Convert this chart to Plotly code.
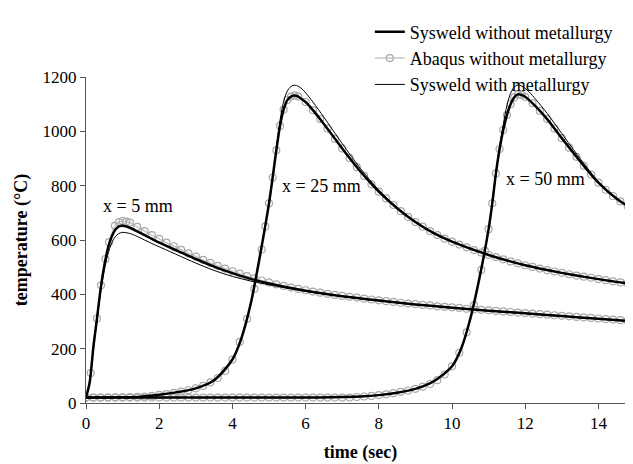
import plotly.graph_objects as go

# ---------------- data ----------------
# Sysweld without metallurgy
t5_sw = [0, 0.1, 0.2, 0.3, 0.4, 0.5, 0.6, 0.7, 0.8, 0.9, 1.0, 1.2, 1.4, 1.6, 1.8, 2.0, 2.5, 3.0, 3.5, 4.0,
         4.5, 5.0, 6.0, 7.0, 8.0, 9.0, 10.0, 11.0, 12.0, 13.0, 14.0, 15.0]
T5_sw = [20, 75, 205, 311, 420, 505, 570, 612, 638, 650, 652, 645, 632, 618, 604, 590, 560, 530, 502, 478,
         457, 440, 413, 393, 377, 363, 351, 340, 330, 320, 310, 300]
T5_wm = [20, 75, 200, 305, 410, 490, 548, 588, 612, 624, 628, 624, 613, 600, 587, 575, 545, 515, 488, 466,
         449, 435, 411, 392, 376, 362, 350, 339, 329, 319, 309, 299]

t25_s = [0, 1.0, 1.5, 2.0, 2.5, 3.0, 3.5, 4.0, 4.25, 4.5, 4.75, 5.0, 5.1, 5.2, 5.3, 5.4, 5.5, 5.6, 5.7,
         5.8, 5.9, 6.0, 6.2, 6.5, 7.0, 7.5, 8.0, 8.5, 9.0, 9.5, 10.0, 11.0, 12.0, 13.0, 14.0, 15.0]
T25_sw = [20, 21, 23, 30, 40, 54, 84, 160, 240, 365, 540, 735, 830, 930, 1020, 1080, 1115, 1128, 1132,
          1128, 1118, 1108, 1078, 1027, 937, 852, 778, 717, 666, 625, 594, 545, 507, 479, 456, 436]
T25_wm = [20, 21, 23, 30, 40, 54, 84, 160, 240, 365, 540, 735, 830, 935, 1040, 1110, 1148, 1165, 1170,
          1166, 1156, 1142, 1108, 1052, 955, 863, 784, 720, 668, 626, 594, 545, 507, 479, 456, 436]

t50_s = [0, 2, 4, 6, 7.0, 7.5, 8.0, 8.5, 9.0, 9.5, 10.0, 10.25, 10.5, 10.75, 11.0, 11.1, 11.2, 11.3, 11.4,
         11.5, 11.6, 11.7, 11.8, 11.9, 12.0, 12.1, 12.3, 12.6, 13.0, 13.5, 14.0, 14.5, 15.0]
T50_sw = [20, 20, 20, 20, 22, 24, 29, 38, 52, 80, 135, 200, 310, 460, 640, 735, 845, 935, 1005,
          1060, 1100, 1125, 1136, 1134, 1127, 1116, 1090, 1045, 975, 890, 811, 752, 708]
T50_wm = [20, 20, 20, 20, 22, 24, 29, 38, 52, 80, 135, 200, 310, 460, 640, 735, 845, 945, 1025,
          1095, 1140, 1163, 1171, 1167, 1158, 1146, 1116, 1066, 992, 900, 815, 753, 708]

# Abaqus without metallurgy
tA5 = [0, 0.13, 0.3, 0.41, 0.53, 0.63, 0.79, 0.9, 1.0, 1.1, 1.2, 1.4, 1.6, 1.8, 2.0, 2.2, 2.4, 2.6, 2.8,
       3.0, 3.2, 3.4, 3.6, 3.8, 4.0, 4.2, 4.4, 4.6, 4.8, 5.0, 5.2, 5.4, 5.6, 5.8, 6.0, 6.2, 6.4, 6.6, 6.8,
       7.0, 7.2, 7.4, 7.6, 7.8, 8.0, 8.2, 8.4, 8.6, 8.8, 9.0, 9.2, 9.4, 9.6, 9.8, 10.0, 10.2, 10.4, 10.6,
       10.8, 11.0, 11.2, 11.4, 11.6, 11.8, 12.0, 12.2, 12.4, 12.6, 12.8, 13.0, 13.2, 13.4, 13.6, 13.8,
       14.0, 14.2, 14.4, 14.6, 14.8, 15.0]
TA5 = [20, 110, 311, 433, 530, 592, 652, 666, 670, 668, 664, 648, 633, 618, 604, 590, 577, 564, 551,
       539, 527, 516, 505, 495, 485, 476, 467, 459, 451, 444, 437, 431, 425, 420, 415, 410, 406, 402, 398,
       394, 391, 388, 384, 381, 378, 375, 372, 369, 366, 364, 361, 359, 356, 354, 352, 350, 347, 345,
       343, 341, 339, 337, 335, 333, 331, 329, 327, 325, 323, 321, 319, 317, 315, 313,
       311, 309, 307, 305, 303, 301]

tA25 = [0, 0.2, 0.4, 0.6, 0.8, 1.0, 1.2, 1.4, 1.6, 1.8, 2.0, 2.2, 2.4, 2.6, 2.8, 3.0, 3.2, 3.4, 3.6, 3.8,
        4.0, 4.2, 4.4, 4.6, 4.8, 4.9, 5.0, 5.1, 5.2, 5.3, 5.4, 5.5, 5.6, 5.7, 5.8, 6.0, 6.2, 6.4, 6.6, 6.8,
        7.0, 7.2, 7.4, 7.6, 7.8, 8.0, 8.2, 8.4, 8.6, 8.8, 9.0, 9.2, 9.4, 9.6, 9.8, 10.0, 10.2, 10.4, 10.6,
        10.8, 11.0, 11.2, 11.4, 11.6, 11.8, 12.0, 12.2, 12.4, 12.6, 12.8, 13.0, 13.2, 13.4, 13.6, 13.8,
        14.0, 14.2, 14.4, 14.6, 14.8, 15.0]
TA25 = [20, 20, 20, 20, 21, 21, 22, 23, 24, 26, 30, 33, 37, 42, 47, 54, 63, 76, 92, 118,
        160, 225, 310, 420, 565, 650, 735, 830, 930, 1020, 1080, 1115, 1128, 1132, 1128, 1108, 1078, 1045, 1010, 972,
        937, 902, 868, 836, 805, 778, 753, 729, 706, 685, 666, 649, 633, 618, 605, 594, 583, 573, 563,
        554, 545, 537, 529, 521, 514, 507, 501, 495, 489, 484, 479, 474, 469, 465, 461,
        456, 452, 448, 444, 440, 436]

tA50 = [0, 0.2, 0.4, 0.6, 0.8, 1.0, 1.2, 1.4, 1.6, 1.8, 2.0, 2.2, 2.4, 2.6, 2.8, 3.0, 3.2, 3.4, 3.6, 3.8,
        4.0, 4.2, 4.4, 4.6, 4.8, 5.0, 5.2, 5.4, 5.6, 5.8, 6.0, 6.2, 6.4, 6.6, 6.8, 7.0, 7.2, 7.4, 7.6, 7.8,
        8.0, 8.2, 8.4, 8.6, 8.8, 9.0, 9.2, 9.4, 9.6, 9.8, 10.0, 10.2, 10.4, 10.6, 10.8, 10.9, 11.0, 11.1,
        11.2, 11.3, 11.4, 11.5, 11.6, 11.7, 11.8, 11.9, 12.0, 12.2, 12.4, 12.6, 12.8, 13.0, 13.2, 13.4,
        13.6, 13.8, 14.0, 14.2, 14.4, 14.6, 14.8, 15.0]
TA50 = [20, 20, 20, 20, 20, 20, 20, 20, 20, 20, 20, 20, 20, 20, 20, 20, 20, 20, 20, 20,
        20, 20, 20, 20, 20, 20, 20, 20, 20, 20, 20, 20, 20, 20, 20, 20, 20, 22, 24, 26,
        29, 32, 36, 41, 46, 52, 60, 70, 84, 105, 135, 185, 260, 360, 490, 560, 640, 735,
        845, 935, 1005, 1060, 1100, 1125, 1136, 1134, 1127, 1104, 1075, 1045, 1010, 975, 940, 906,
        873, 841, 811, 785, 762, 742, 724, 708]

labels = ["x = 5 mm", "x = 25 mm", "x = 50 mm"]
label_t = [1.41, 6.43, 12.55]
label_T = [725, 799, 823]

series_names = ["Sysweld without metallurgy", "Abaqus without metallurgy", "Sysweld with metallurgy"]


def join(parts):
    xs, ys = [], []
    for i, (x, y) in enumerate(parts):
        if i:
            xs.append(None)
            ys.append(None)
        xs += x
        ys += y
    return xs, ys


FONT = "Liberation Serif, Times New Roman, serif"

xa, ya = join([(tA5, TA5), (tA25, TA25), (tA50, TA50)])
xs, ys = join([(t5_sw, T5_sw), (t25_s, T25_sw), (t50_s, T50_sw)])
xw, yw = join([(t5_sw, T5_wm), (t25_s, T25_wm), (t50_s, T50_wm)])

fig = go.Figure()
fig.add_trace(go.Scatter(
    x=xa, y=ya, name=series_names[1], mode="lines+markers", legendrank=2,
    line=dict(color="#c8c8c8", width=1.5, shape="spline", smoothing=0.8),
    marker=dict(symbol="circle-open", size=7, color="#a8a8a8", line=dict(width=1.2)),
))
fig.add_trace(go.Scatter(
    x=xs, y=ys, name=series_names[0], mode="lines", legendrank=1,
    line=dict(color="black", width=2.5, shape="spline", smoothing=0.8),
))
fig.add_trace(go.Scatter(
    x=xw, y=yw, name=series_names[2], mode="lines", legendrank=3,
    line=dict(color="black", width=1, shape="spline", smoothing=0.8),
))

for txt, tx, ty in zip(labels, label_t, label_T):
    fig.add_annotation(x=tx, y=ty, text=txt, showarrow=False,
                       font=dict(family=FONT, size=18, color="black"))

fig.update_layout(
    width=633, height=464,
    margin=dict(l=78, r=6, t=67, b=69),
    paper_bgcolor="white", plot_bgcolor="white",
    font=dict(family=FONT, color="black"),
    showlegend=True,
    legend=dict(x=0.517, y=1.195, xanchor="left", yanchor="top",
                font=dict(family=FONT, size=18, color="black"),
                bgcolor="rgba(0,0,0,0)", tracegroupgap=0, itemwidth=30),
    xaxis=dict(range=[0, 15], tickvals=[0, 2, 4, 6, 8, 10, 12, 14], showgrid=False, zeroline=False,
               showline=True, linecolor="#555555", linewidth=1, ticks="outside", ticklen=5,
               tickcolor="#555555", tickfont=dict(family=FONT, size=17),
               title=dict(text="<b>time (sec)</b>", font=dict(family=FONT, size=18), standoff=12)),
    yaxis=dict(range=[0, 1200], tickvals=[0, 200, 400, 600, 800, 1000, 1200], showgrid=False,
               zeroline=False, showline=True, linecolor="#555555", linewidth=1, ticks="outside",
               ticklen=5, tickcolor="#555555", tickfont=dict(family=FONT, size=17),
               title=dict(text="<b>temperature (°C)</b>", font=dict(family=FONT, size=18), standoff=10)),
)

fig.write_html("out.html")
